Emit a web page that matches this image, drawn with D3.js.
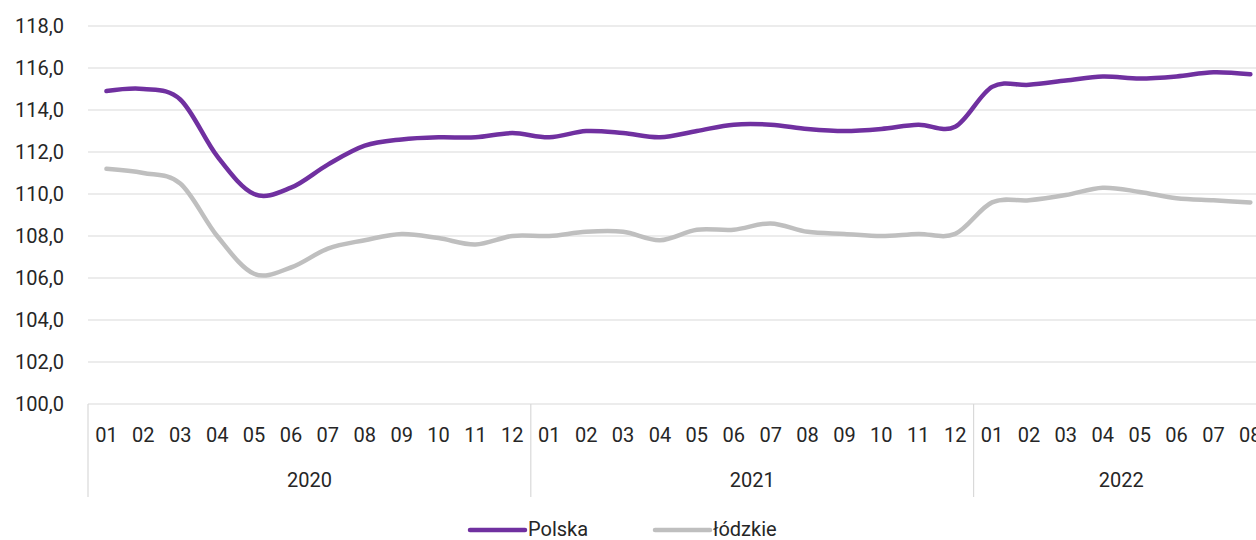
<!DOCTYPE html>
<html>
<head>
<meta charset="utf-8">
<script src="https://cdn.jsdelivr.net/npm/d3@7"></script>
<style>
  body { margin: 0; background: #fff; }
  text { font-family: "Liberation Sans Narrow", "Roboto", sans-serif; fill: #262626; }
</style>
</head>
<body>
<div id="chart"></div>
<script>
var svgWidth = 1256;
var svgHeight = 540;

// chart values
var years = ["2020", "2021", "2022"];
var monthsPerYear = [12, 12, 8];
var months = ["01","02","03","04","05","06","07","08","09","10","11","12",
              "01","02","03","04","05","06","07","08","09","10","11","12",
              "01","02","03","04","05","06","07","08"];
var polska = [114.9, 115.0, 114.5, 111.8, 110.0, 110.3, 111.4, 112.3, 112.6, 112.7, 112.7, 112.9,
              112.7, 113.0, 112.9, 112.7, 113.0, 113.3, 113.3, 113.1, 113.0, 113.1, 113.3, 113.2,
              115.1, 115.2, 115.4, 115.6, 115.5, 115.6, 115.8, 115.7];
var lodzkie = [111.2, 111.0, 110.5, 108.0, 106.2, 106.5, 107.4, 107.8, 108.1, 107.9, 107.6, 108.0,
               108.0, 108.2, 108.2, 107.8, 108.3, 108.3, 108.6, 108.2, 108.1, 108.0, 108.1, 108.1,
               109.6, 109.7, 109.95, 110.3, 110.1, 109.8, 109.7, 109.6];
var yTicks = [100, 102, 104, 106, 108, 110, 112, 114, 116, 118];
var seriesNames = ["Polska", "łódzkie"];
var seriesColors = ["#7030a0", "#bfbfbf"];

var plotLeft = 88, plotTop = 26, plotBottom = 404;
var band = 36.9;

var svg = d3.select("#chart").append("svg")
  .attr("width", svgWidth)
  .attr("height", svgHeight);

var idx = months.map((d, i) => i);

var x = d3.scaleBand()
  .domain(idx)
  .range([plotLeft, plotLeft + band * months.length]);

var y = d3.scaleLinear()
  .domain([100, 118])
  .range([plotBottom, plotTop]);

// gridlines
svg.append("g").selectAll("line")
  .data(yTicks.filter(d => d > 100))
  .enter().append("line")
  .attr("x1", plotLeft).attr("x2", svgWidth)
  .attr("y1", d => y(d)).attr("y2", d => y(d))
  .attr("stroke", "#d9d9d9").attr("stroke-width", 1.2);

// y axis labels
svg.append("g").selectAll("text")
  .data(yTicks)
  .enter().append("text")
  .attr("x", 64)
  .attr("y", d => y(d) + 7)
  .attr("text-anchor", "end")
  .attr("font-size", 20)
  .text(d => d3.format(".1f")(d).replace(".", ","));

// x axis baseline
svg.append("line")
  .attr("x1", plotLeft).attr("x2", svgWidth)
  .attr("y1", plotBottom).attr("y2", plotBottom)
  .attr("stroke", "#d9d9d9").attr("stroke-width", 1.2);

// month labels
svg.append("g").selectAll("text")
  .data(idx)
  .enter().append("text")
  .attr("x", d => x(d) + x.bandwidth() / 2)
  .attr("y", 442)
  .attr("text-anchor", "middle")
  .attr("font-size", 20)
  .text(d => months[d]);

// year groups
var start = 0;
years.forEach(function(yr, j) {
  var x0 = x(start);
  var x1 = x0 + band * monthsPerYear[j];
  svg.append("line")
    .attr("x1", x0).attr("x2", x0)
    .attr("y1", plotBottom).attr("y2", 497)
    .attr("stroke", "#d9d9d9").attr("stroke-width", 1.2);
  svg.append("text")
    .attr("x", (x0 + x1) / 2)
    .attr("y", 487)
    .attr("text-anchor", "middle")
    .attr("font-size", 20)
    .text(yr);
  start += monthsPerYear[j];
});

// lines
var line = d3.line()
  .x((d, i) => x(i) + x.bandwidth() / 2)
  .y(d => y(d))
  .curve(d3.curveCatmullRom.alpha(0));

[lodzkie, polska].forEach(function(s, k) {
  svg.append("path")
    .datum(s)
    .attr("fill", "none")
    .attr("stroke", k === 0 ? seriesColors[1] : seriesColors[0])
    .attr("stroke-width", 4.5)
    .attr("stroke-linecap", "round")
    .attr("d", line);
});

// legend
var legendX = [470, 655];
seriesNames.forEach(function(name, i) {
  svg.append("line")
    .attr("x1", legendX[i]).attr("x2", legendX[i] + 55)
    .attr("y1", 530).attr("y2", 530)
    .attr("stroke", seriesColors[i])
    .attr("stroke-width", 4.5)
    .attr("stroke-linecap", "round");
  svg.append("text")
    .attr("x", legendX[i] + 58)
    .attr("y", 536)
    .attr("font-size", 20)
    .text(name);
});
</script>
</body>
</html>
